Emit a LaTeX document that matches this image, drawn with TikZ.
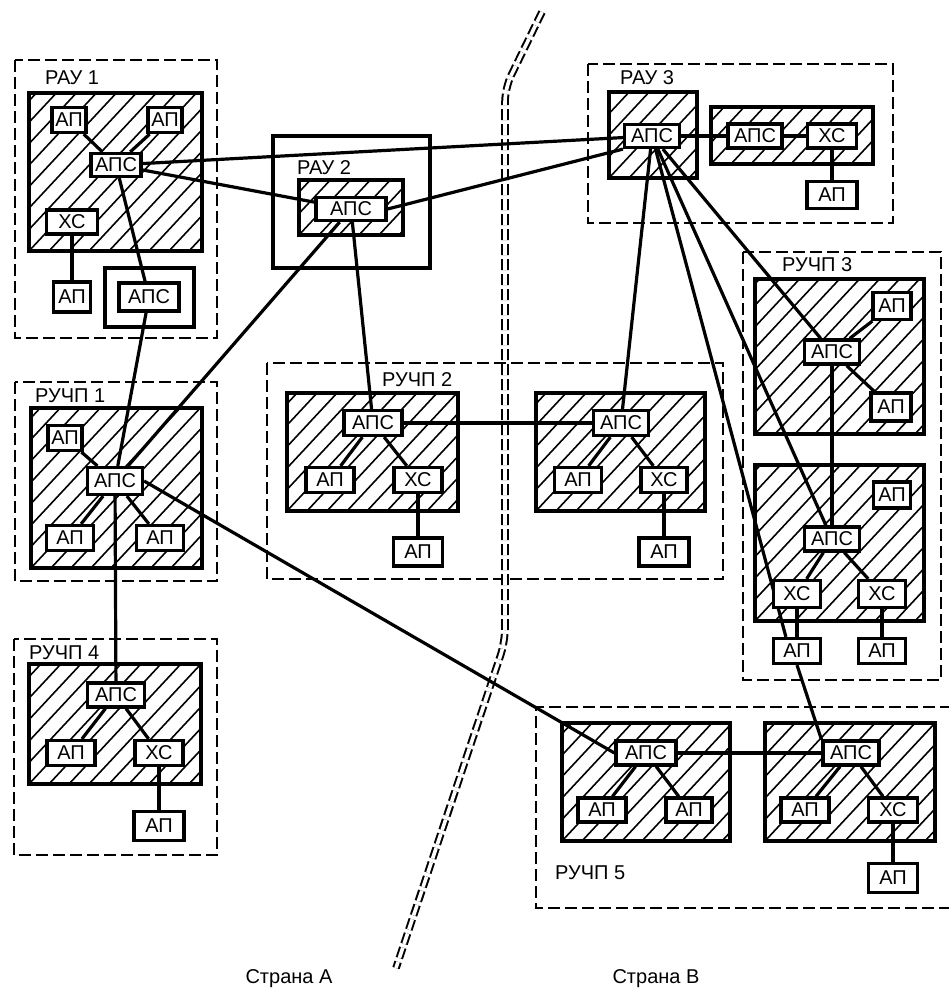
\documentclass[tikz,border=0pt]{standalone}
\usepackage{fontspec}
\setmainfont{Liberation Sans}
\pgfdeclarelayer{bg}
\pgfdeclarelayer{wires}
\pgfsetlayers{bg,wires,main}
\tikzset{
  fnt/.style={font=\fontsize{20}{22}\selectfont},
  unit/.style={draw, line width=3.2pt, fill=white, inner sep=0pt, fnt},
  lbl/.style={fnt, anchor=west, inner sep=0pt},
  zone/.style={draw, line width=2.2pt, dash pattern=on 12pt off 5pt},
  hatched/.style={draw, line width=4.4pt, fill=white,
    path picture={\foreach \k in {-10,...,10}{\draw[line width=1.6pt] ([xshift=\k*20pt]path picture bounding box.south west) -- ++(47:280pt);}}},
  solidframe/.style={draw, line width=4.4pt, fill=white},
  wire/.style={line width=3.2pt},
  countryline/.style={line width=2pt, double=white, double distance=3.6pt, dash pattern=on 11pt off 4pt, rounded corners=14pt}
}
\begin{document}
\begin{tikzpicture}[x=1pt,y=-1pt]
\useasboundingbox (0,0) rectangle (949,989);

% ---------- background layer: zones, frames, hatched blocks, border ----------
\begin{pgfonlayer}{bg}
  \fill[white] (0,0) rectangle (949,989);
  % zones
  \path[zone] (15,60) rectangle (217,338);
  \path[zone] (588,64) rectangle (893,223);
  \path[zone] (15,382) rectangle (217,581);
  \path[zone] (267,363) rectangle (723,579);
  \path[zone] (743,252) rectangle (941,680);
  \path[zone] (14,639) rectangle (217,855);
  \draw[zone] (952,707) -- (536,707) -- (536,908) -- (952,908);
  % country border
  \draw[countryline] (542,12) -- (505,88) -- (505,642) -- (396,968);
  % solid frames
  \path[solidframe] (105,268) rectangle (194,327);
  \path[solidframe] (273,136) rectangle (430,268);
  % hatched blocks
  \path[hatched] (29,93) rectangle (202,251);
  \path[hatched] (299,180) rectangle (403,235);
  \path[hatched] (609,92) rectangle (697,178);
  \path[hatched] (711,107) rectangle (873,164);
  \path[hatched] (31,408) rectangle (202,568);
  \path[hatched] (287,393) rectangle (458,511);
  \path[hatched] (536,393) rectangle (705,511);
  \path[hatched] (755,279) rectangle (924,434);
  \path[hatched] (755,465) rectangle (924,621);
  \path[hatched] (29,664) rectangle (201,784);
  \path[hatched] (562,723) rectangle (730,841);
  \path[hatched] (765,723) rectangle (935,841);
\end{pgfonlayer}

% ---------- labels ----------
\node[lbl] (lr1) at (45,78) {РАУ 1};
\node[lbl] (lr2) at (297,168) {РАУ 2};
\node[lbl] (lr3) at (620,78) {РАУ 3};
\node[lbl] (lp1) at (35,396) {РУЧП 1};
\node[lbl] (lp2) at (382,380) {РУЧП 2};
\node[lbl] (lp3) at (782,265) {РУЧП 3};
\node[lbl] (lp4) at (29,653) {РУЧП 4};
\node[lbl] (lp5) at (555,873) {РУЧП 5};
\node[fnt, inner sep=0pt] (ca) at (289,979) {Страна А};
\node[fnt, inner sep=0pt] (cb) at (656,979) {Страна В};

% ---------- RAU 1 ----------
\node[unit, minimum width=34pt, minimum height=25pt] (r1apa) at (69,120) {АП};
\node[unit, minimum width=34pt, minimum height=25pt] (r1apb) at (165,120) {АП};
\node[unit, minimum width=50pt, minimum height=23pt] (r1aps) at (116,165) {АПС};
\node[unit, minimum width=51pt, minimum height=24pt] (r1xc) at (72,222) {ХС};
\node[unit, minimum width=37pt, minimum height=30pt] (r1apc) at (72,297) {АП};
\node[unit, minimum width=60pt, minimum height=28pt] (r1aps2) at (149,297) {АПС};

% ---------- RAU 2 ----------
\node[unit, minimum width=70pt, minimum height=23pt] (r2aps) at (351,209) {АПС};

% ---------- RAU 3 ----------
\node[unit, minimum width=55pt, minimum height=23pt] (r3aps) at (652,136) {АПС};
\node[unit, minimum width=54pt, minimum height=24pt] (r3aps2) at (755,136) {АПС};
\node[unit, minimum width=49pt, minimum height=24pt] (r3xc) at (832,136) {ХС};
\node[unit, minimum width=50pt, minimum height=27pt] (r3ap) at (832,195) {АП};

% ---------- RUCHP 1 ----------
\node[unit, minimum width=34pt, minimum height=25pt] (p1apa) at (65,438) {АП};
\node[unit, minimum width=55pt, minimum height=27pt] (p1aps) at (115,481) {АПС};
\node[unit, minimum width=47pt, minimum height=25pt] (p1apb) at (70,538) {АП};
\node[unit, minimum width=47pt, minimum height=25pt] (p1apc) at (160,538) {АП};

% ---------- RUCHP 2 ----------
\node[unit, minimum width=58pt, minimum height=25pt] (p2aps) at (373,423) {АПС};
\node[unit, minimum width=48pt, minimum height=25pt] (p2ap) at (330,480) {АП};
\node[unit, minimum width=48pt, minimum height=25pt] (p2xc) at (418,480) {ХС};
\node[unit, minimum width=49pt, minimum height=28pt] (p2ap2) at (418,552) {АП};
\node[unit, minimum width=55pt, minimum height=25pt] (p2baps) at (621,423) {АПС};
\node[unit, minimum width=47pt, minimum height=25pt] (p2bap) at (578,480) {АП};
\node[unit, minimum width=46pt, minimum height=25pt] (p2bxc) at (664,480) {ХС};
\node[unit, minimum width=50pt, minimum height=28pt] (p2bap2) at (664,552) {АП};

% ---------- RUCHP 3 ----------
\node[unit, minimum width=38pt, minimum height=27pt] (p3apa) at (892,306) {АП};
\node[unit, minimum width=55pt, minimum height=24pt] (p3aps) at (832,352) {АПС};
\node[unit, minimum width=40pt, minimum height=28pt] (p3apb) at (891,407) {АП};
\node[unit, minimum width=37pt, minimum height=26pt] (p3apc) at (892,495) {АП};
\node[unit, minimum width=55pt, minimum height=24pt] (p3aps2) at (832,539) {АПС};
\node[unit, minimum width=47pt, minimum height=27pt] (p3xca) at (797,594) {ХС};
\node[unit, minimum width=47pt, minimum height=27pt] (p3xcb) at (882,594) {ХС};
\node[unit, minimum width=47pt, minimum height=25pt] (p3apd) at (797,651) {АП};
\node[unit, minimum width=47pt, minimum height=25pt] (p3ape) at (882,651) {АП};

% ---------- RUCHP 4 ----------
\node[unit, minimum width=57pt, minimum height=24pt] (p4aps) at (116,695) {АПС};
\node[unit, minimum width=48pt, minimum height=25pt] (p4ap) at (71,753) {АП};
\node[unit, minimum width=48pt, minimum height=25pt] (p4xc) at (159,753) {ХС};
\node[unit, minimum width=50pt, minimum height=29pt] (p4ap2) at (159,826) {АП};

% ---------- RUCHP 5 ----------
\node[unit, minimum width=60pt, minimum height=24pt] (p5aps) at (646,753) {АПС};
\node[unit, minimum width=48pt, minimum height=24pt] (p5ap) at (602,810) {АП};
\node[unit, minimum width=46pt, minimum height=24pt] (p5apb) at (689,810) {АП};
\node[unit, minimum width=56pt, minimum height=24pt] (p5baps) at (851,753) {АПС};
\node[unit, minimum width=48pt, minimum height=24pt] (p5bap) at (805,810) {АП};
\node[unit, minimum width=49pt, minimum height=24pt] (p5bxc) at (893,810) {ХС};
\node[unit, minimum width=49pt, minimum height=29pt] (p5bap2) at (893,878) {АП};

% ---------- connectors ----------
\begin{pgfonlayer}{wires}
  % RAU 1
  \draw[wire] (r1aps) -- (r1apa);
  \draw[wire] (r1aps) -- (r1apb);
  \draw[wire] (r1xc) -- (r1apc);
  \draw[wire] (r1aps) -- (r1aps2);
  \draw[wire] (r1aps2) -- (p1aps);
  \draw[wire] (r1aps) -- (r3aps);
  \draw[wire] (r1aps) -- (r2aps);
  % RAU 2
  \draw[wire] (r2aps.east) -- (r3aps.south west);
  \draw[wire] (r2aps) -- (p1aps);
  \draw[wire] (r2aps) -- (p2aps);
  % RAU 3
  \draw[wire] (r3aps) -- (r3aps2);
  \draw[wire] (r3aps2) -- (r3xc);
  \draw[wire] (r3xc) -- (r3ap);
  \draw[wire] (r3aps) -- (p2baps);
  \draw[wire] (r3aps) -- (p3aps);
  \draw[wire] (r3aps) -- (p3aps2);
  \draw[wire] (r3aps) -- ([xshift=14pt]p3apd.north west);
  % RUCHP 1
  \draw[wire] (p1aps) -- (p1apa);
  \draw[wire] (p1aps) -- (p1apb);
  \draw[wire] (p1aps) -- (p1apc);
  \draw[wire] (p1aps) -- (p4aps);
  \draw[wire] (p1aps.east) -- (p5aps.west);
  % RUCHP 2
  \draw[wire] (p2aps) -- (p2ap);
  \draw[wire] (p2aps) -- (p2xc);
  \draw[wire] (p2xc) -- (p2ap2);
  \draw[wire] (p2aps) -- (p2baps);
  \draw[wire] (p2baps) -- (p2bap);
  \draw[wire] (p2baps) -- (p2bxc);
  \draw[wire] (p2bxc) -- (p2bap2);
  % RUCHP 3
  \draw[wire] (p3aps) -- (p3apa);
  \draw[wire] (p3aps) -- (p3apb);
  \draw[wire] (p3aps) -- (p3aps2);
  \draw[wire] (p3aps2) -- (p3xca);
  \draw[wire] (p3aps2) -- (p3xcb);
  \draw[wire] (p3xca) -- (p3apd);
  \draw[wire] (p3xcb) -- (p3ape);
  \draw[wire] (p3apd.south) -- (p5baps.north west);
  % RUCHP 4
  \draw[wire] (p4aps) -- (p4ap);
  \draw[wire] (p4aps) -- (p4xc);
  \draw[wire] (p4xc) -- (p4ap2);
  % RUCHP 5
  \draw[wire] (p5aps) -- (p5ap);
  \draw[wire] (p5aps) -- (p5apb);
  \draw[wire] (p5aps) -- (p5baps);
  \draw[wire] (p5baps) -- (p5bap);
  \draw[wire] (p5baps) -- (p5bxc);
  \draw[wire] (p5bxc) -- (p5bap2);
\end{pgfonlayer}
\end{tikzpicture}
\end{document}
